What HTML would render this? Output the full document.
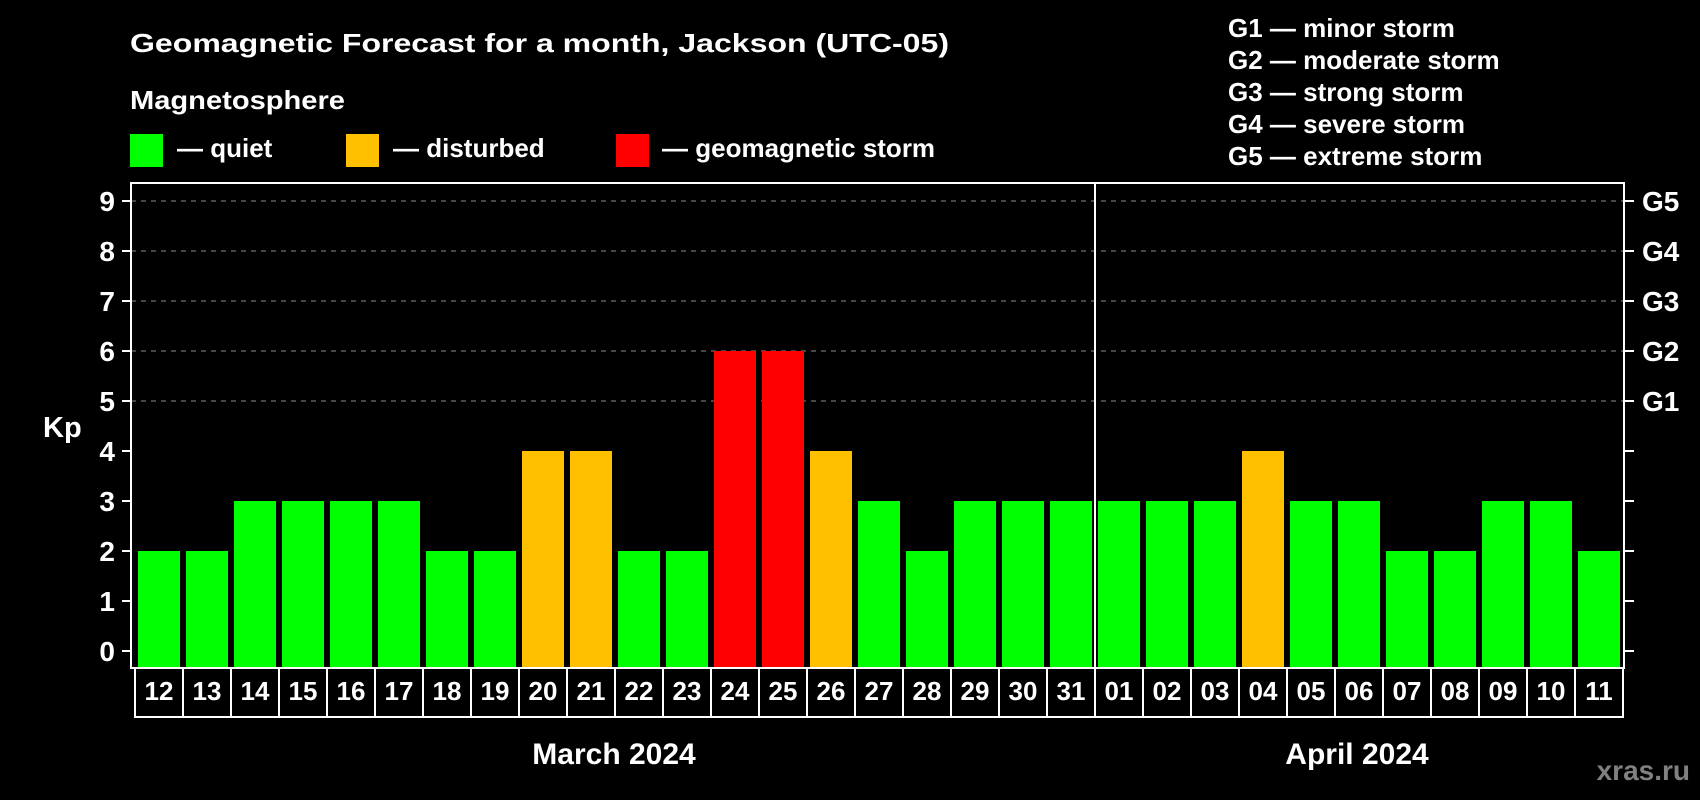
<!DOCTYPE html>
<html><head><meta charset="utf-8"><style>
html,body{margin:0;padding:0;background:#000;}
svg{display:block;font-family:"Liberation Sans",Arial,sans-serif;font-weight:bold;}
</style></head><body>
<svg id="chart" width="1700" height="800" viewBox="0 0 1700 800" xmlns="http://www.w3.org/2000/svg">
<rect x="0" y="0" width="1700" height="800" fill="#000"/>
<text x="130" y="52" fill="#fff" font-size="26" textLength="819" lengthAdjust="spacingAndGlyphs">Geomagnetic Forecast for a month, Jackson (UTC-05)</text>
<text x="130" y="109" fill="#fff" font-size="26" textLength="215" lengthAdjust="spacingAndGlyphs">Magnetosphere</text>
<g>
<rect x="130" y="134" width="33" height="33" fill="#00ff00"/>
<text x="177" y="157" fill="#fff" font-size="26">— quiet</text></g>
<g>
<rect x="346" y="134" width="33" height="33" fill="#ffc000"/>
<text x="393" y="157" fill="#fff" font-size="26">— disturbed</text></g>
<g>
<rect x="616" y="134" width="33" height="33" fill="#ff0000"/>
<text x="662" y="157" fill="#fff" font-size="26">— geomagnetic storm</text></g>
<g fill="#fff" font-size="26">
<text x="1228" y="37">G1 — minor storm</text>
<text x="1228" y="69">G2 — moderate storm</text>
<text x="1228" y="101">G3 — strong storm</text>
<text x="1228" y="133">G4 — severe storm</text>
<text x="1228" y="165">G5 — extreme storm</text>
</g>
<text x="43" y="437" fill="#fff" font-size="29">Kp</text>
<g id="plot"></g>
<text x="614" y="764" fill="#fff" font-size="30" text-anchor="middle">March 2024</text>
<text x="1357" y="764" fill="#fff" font-size="30" text-anchor="middle">April 2024</text>
<text x="1690" y="780" fill="#808080" font-size="28" text-anchor="end">xras.ru</text>
</svg>
<script>
const days = ["12","13","14","15","16","17","18","19","20","21","22","23","24","25","26","27","28","29","30","31","01","02","03","04","05","06","07","08","09","10","11"];
const kpValues = [2,2,3,3,3,3,2,2,4,4,2,2,6,6,4,3,2,3,3,3,3,3,3,4,3,3,2,2,3,3,2];
const yTicks = [0,1,2,3,4,5,6,7,8,9];
const gLabels = ["G1","G2","G3","G4","G5"];
const gLevels = [5,6,7,8,9];

const NS="http://www.w3.org/2000/svg";
const plot=document.getElementById('plot');
const L=131,R=1624,T=183,B=668;
const y=v=>651-50*v;
const x=i=>138+48*i;
function mk(tag,attrs){const e=document.createElementNS(NS,tag);for(const k in attrs)e.setAttribute(k,attrs[k]);plot.appendChild(e);return e;}
function color(v){return v>=5?"#ff0000":(v>=4?"#ffc000":"#00ff00");}

gLevels.forEach((v,i)=>{
  const g=mk('line',{x1:L,x2:R,y1:y(v),y2:y(v),stroke:"#8a8a8a","stroke-width":1,"stroke-dasharray":"5,5"});
  
  
  const t=mk('text',{x:1642,y:y(v)+10,fill:"#fff","font-size":28});
  t.textContent=gLabels[i];
  
  
});
yTicks.forEach(v=>{
  const a=mk('line',{x1:122,x2:L,y1:y(v),y2:y(v),stroke:"#fff","stroke-width":2});
  
  
  const b=mk('line',{x1:R,x2:1634,y1:y(v),y2:y(v),stroke:"#fff","stroke-width":2});
  
  
  const t=mk('text',{x:115,y:y(v)+10,fill:"#fff","font-size":28,"text-anchor":"end"});
  t.textContent=v;
  
  
});
kpValues.forEach((v,i)=>{
  const r=mk('rect',{x:x(i),y:y(v),width:42,height:B-y(v),fill:color(v)});
  
  
});
const box=mk('rect',{x:L,y:T,width:R-L,height:B-T,fill:"none",stroke:"#fff","stroke-width":2});


const div=mk('line',{x1:1095,x2:1095,y1:T,y2:B,stroke:"#fff","stroke-width":2});


days.forEach((d,i)=>{
  const c=mk('rect',{x:x(i)-3,y:B,width:48,height:49,fill:"none",stroke:"#fff","stroke-width":2});
  
  
  const t=mk('text',{x:x(i)+21,y:700,fill:"#fff","font-size":26,"text-anchor":"middle"});
  t.textContent=d;
  
  
});
</script>
</body></html>
